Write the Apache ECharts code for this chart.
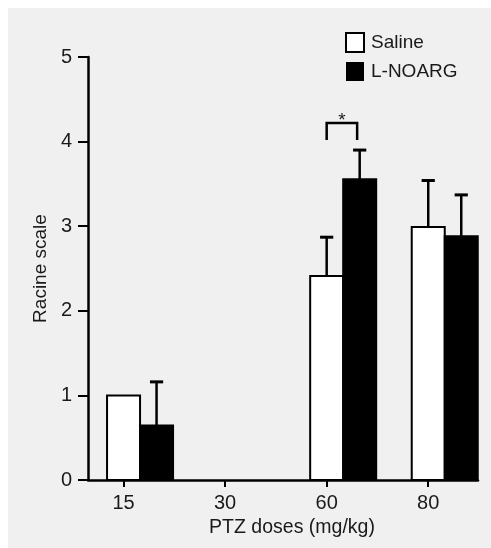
<!DOCTYPE html>
<html>
<head>
<meta charset="utf-8">
<script src="https://cdn.jsdelivr.net/npm/echarts@6/dist/echarts.min.js"></script>
<style>
  html, body { margin: 0; padding: 0; background: #ffffff; }
  #bg { position: absolute; left: 8px; top: 8px; right: 0; bottom: 0; background: #f0f0f0; }
  #chart { position: absolute; left: 0; top: 0; width: 491px; height: 548px; }
</style>
</head>
<body>
<div id="bg"></div>
<div id="chart"></div>
<script>
// ---- data ----
const categories = ['15', '30', '60', '80'];
const salineMean = [1.0, 0, 2.41, 2.99];
const salineSem  = [0, 0, 0.46, 0.55];
const noargMean  = [0.645, 0, 3.555, 2.88];
const noargSem   = [0.515, 0, 0.345, 0.49];
const yTicks = [0, 1, 2, 3, 4, 5];
const bracketX = [2, 2.3];      // significance bracket between groups at 60 mg/kg
const bracketY = [4.02, 4.22];
const sigLabel = '*';

const FONT = '"Liberation Sans", Arial, Helvetica, sans-serif';
const TXT = '#1a1a1a';
const BAR_W = 0.325;

function barRenderer(offset, fill) {
  return function (params, api) {
    const x = api.value(0), v = api.value(1), e = api.value(2);
    if (!(v > 0)) return { type: 'group', children: [] };
    const c = x + offset;
    const tl = api.coord([c - BAR_W / 2, v]);
    const br = api.coord([c + BAR_W / 2, 0]);
    const children = [{
      type: 'rect',
      shape: { x: tl[0], y: tl[1], width: br[0] - tl[0], height: br[1] - tl[1] },
      style: { fill: fill, stroke: '#000', lineWidth: 2 }
    }];
    if (e > 0) {
      const p0 = api.coord([c, v]);
      const p1 = api.coord([c, v + e]);
      const capL = api.coord([c - 0.065, v + e]);
      const capR = api.coord([c + 0.065, v + e]);
      children.push({ type: 'line', shape: { x1: p0[0], y1: p0[1], x2: p1[0], y2: p1[1] }, style: { stroke: '#000', lineWidth: 2.5 } });
      children.push({ type: 'line', shape: { x1: capL[0], y1: capL[1], x2: capR[0], y2: capR[1] }, style: { stroke: '#000', lineWidth: 3 } });
    }
    return { type: 'group', children: children };
  };
}

const chart = echarts.init(document.getElementById('chart'), null, { renderer: 'canvas' });
chart.setOption({
  backgroundColor: 'transparent',
  animation: false,
  textStyle: { fontFamily: FONT, color: TXT },
  grid: { left: 88, right: 13, top: 57, bottom: 68, containLabel: false },
  legend: {
    orient: 'vertical',
    left: 345, top: 32, padding: 0,
    itemWidth: 18, itemHeight: 19, itemGap: 9,
    textStyle: { fontSize: 19, color: TXT, fontFamily: FONT, padding: [0, 0, 0, 2] },
    data: [
      { name: 'Saline', icon: 'rect', itemStyle: { color: '#ffffff', borderColor: '#000', borderWidth: 2 } },
      { name: 'L-NOARG', icon: 'rect', itemStyle: { color: '#000000', borderColor: '#000', borderWidth: 0 } }
    ]
  },
  xAxis: {
    type: 'value',
    min: -0.35, max: 3.49,
    name: 'PTZ doses (mg/kg)',
    nameLocation: 'middle',
    nameGap: 35,
    nameTextStyle: { fontSize: 19.5, color: TXT, fontFamily: FONT, padding: [0, 0, 0, 18] },
    axisLine: { show: true, onZero: false, lineStyle: { color: '#000', width: 2.5 } },
    axisTick: { show: true, length: 7, customValues: [0, 1, 2, 3], lineStyle: { color: '#000', width: 2 } },
    axisLabel: {
      customValues: [0, 1, 2, 3],
      margin: 13, fontSize: 20, color: TXT, fontFamily: FONT,
      formatter: function (v) { return categories[Math.round(v)]; }
    },
    splitLine: { show: false }
  },
  yAxis: {
    type: 'value',
    min: 0, max: 5, interval: 1,
    name: 'Racine scale',
    nameLocation: 'middle',
    nameGap: 36,
    nameTextStyle: { fontSize: 19, color: TXT, fontFamily: FONT },
    axisLine: { show: true, onZero: false, lineStyle: { color: '#000', width: 2.5 } },
    axisTick: { show: true, length: 10, lineStyle: { color: '#000', width: 2 } },
    axisLabel: {
      margin: 16, fontSize: 20, color: TXT, fontFamily: FONT,
      formatter: function (v) { return yTicks.indexOf(v) >= 0 ? String(v) : ''; }
    },
    splitLine: { show: false }
  },
  series: [
    {
      name: 'Saline', type: 'custom',
      renderItem: barRenderer(0, '#ffffff'),
      data: categories.map(function (c, i) { return [i, salineMean[i], salineSem[i]]; }),
      encode: { x: 0, y: 1 }, z: 2
    },
    {
      name: 'L-NOARG', type: 'custom',
      renderItem: barRenderer(BAR_W, '#000000'),
      data: categories.map(function (c, i) { return [i, noargMean[i], noargSem[i]]; }),
      encode: { x: 0, y: 1 }, z: 3
    },
    {
      name: 'sig', type: 'custom',
      renderItem: function (params, api) {
        const a = api.coord([bracketX[0], bracketY[0]]);
        const b = api.coord([bracketX[0], bracketY[1]]);
        const c = api.coord([bracketX[1], bracketY[1]]);
        const d = api.coord([bracketX[1], bracketY[0]]);
        const m = api.coord([(bracketX[0] + bracketX[1]) / 2, bracketY[1]]);
        return {
          type: 'group',
          children: [
            { type: 'polyline', shape: { points: [a, b, c, d] }, style: { stroke: '#000', lineWidth: 2.5, fill: null } },
            { type: 'text', x: m[0], y: m[1] + 7, style: { text: sigLabel, font: '19px ' + FONT, fill: TXT, align: 'center', verticalAlign: 'bottom' } }
          ]
        };
      },
      data: [[bracketX[0], bracketY[1]]],
      encode: { x: 0, y: 1 }, z: 4
    }
  ]
});
</script>
</body>
</html>
